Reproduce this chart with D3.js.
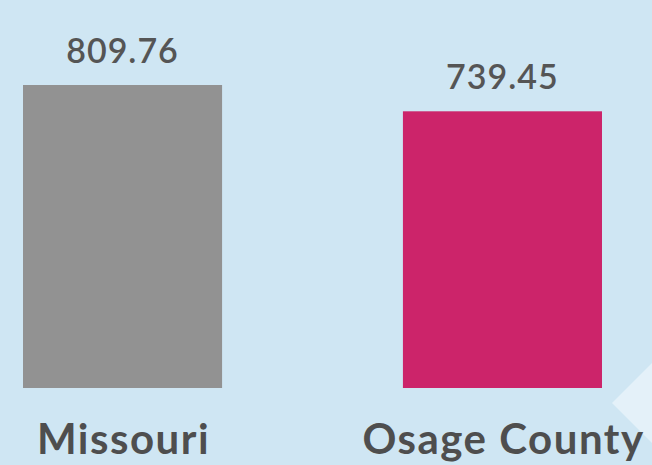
<!DOCTYPE html>
<html>
<head>
<meta charset="utf-8">
<script src="https://cdn.jsdelivr.net/npm/d3@7"></script>
<style>
  body { margin: 0; background: #cfe6f3; }
  svg { display: block; }
</style>
</head>
<body>
<svg id="chart" width="652" height="465"></svg>
<script>
var categories = ["Missouri", "Osage County"];
var values = [809.76, 739.45];
var colors = ["#929292", "#cc246a"];

var svg = d3.select("#chart");
var width = 652, height = 465;

svg.append("rect")
    .attr("width", width)
    .attr("height", height)
    .attr("fill", "#cfe6f3");

// faint chevron in the corner
svg.append("path")
    .attr("d", "M612,403 L652,363 L652,443 Z")
    .attr("fill", "#e4f1f9");

var x = d3.scaleBand()
    .domain(categories)
    .range([23, 602])
    .paddingInner(0.476)
    .paddingOuter(0);

var y = d3.scaleLinear()
    .domain([0, 809.76])
    .range([388, 85]);

var bar = svg.selectAll("g.bar")
    .data(categories)
  .enter().append("g")
    .attr("class", "bar")
    .attr("transform", function(d) { return "translate(" + x(d) + ",0)"; });

bar.append("rect")
    .attr("y", function(d, i) { return y(values[i]); })
    .attr("width", x.bandwidth())
    .attr("height", function(d, i) { return y(0) - y(values[i]); })
    .attr("fill", function(d, i) { return colors[i]; });

bar.append("text")
    .attr("x", x.bandwidth() / 2)
    .attr("y", function(d, i) { return y(values[i]) - 22; })
    .attr("text-anchor", "middle")
    .style("font-family", "Lato, sans-serif")
    .style("font-size", "34px")
    .style("font-weight", "600")
    .style("letter-spacing", "1px")
    .style("fill", "#555555")
    .text(function(d, i) { return values[i].toFixed(2); });

bar.append("text")
    .attr("x", x.bandwidth() / 2 + 1)
    .attr("y", 454)
    .attr("text-anchor", "middle")
    .style("font-family", "Lato, sans-serif")
    .style("font-size", "42px")
    .style("font-weight", "700")
    .style("letter-spacing", "1.5px")
    .style("fill", "#4e4e4e")
    .text(function(d) { return d; });
</script>
</body>
</html>
